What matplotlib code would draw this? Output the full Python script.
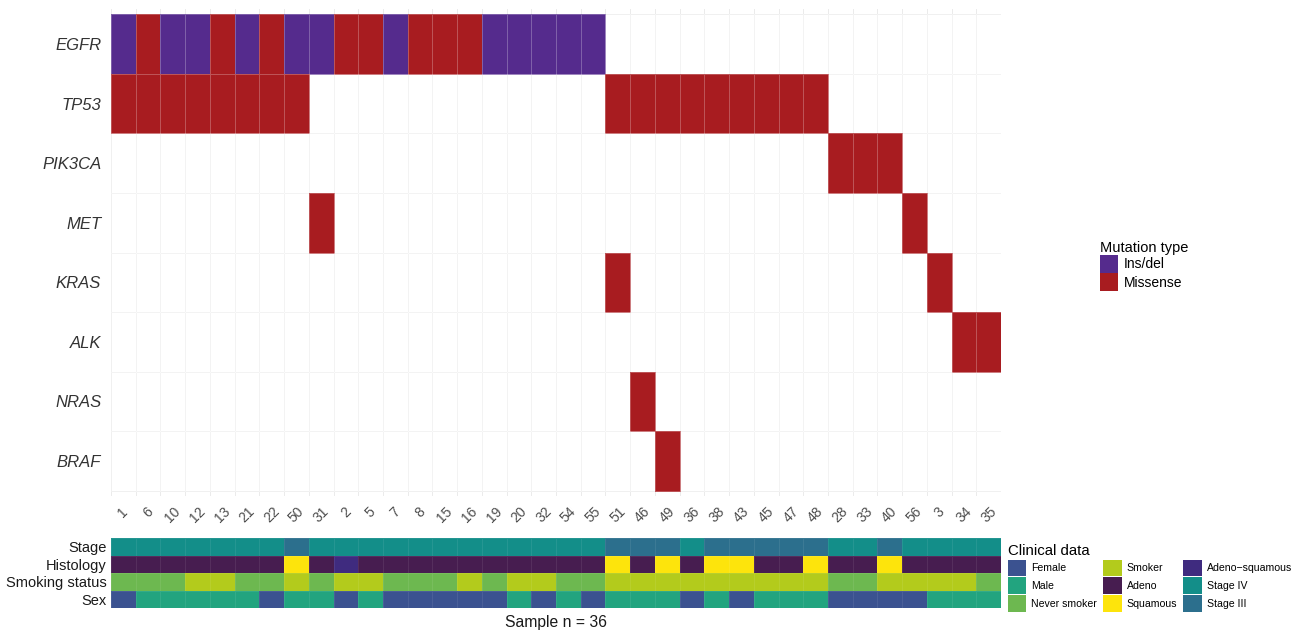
# oncoprint: mutations per gene + clinical annotation strip
import numpy as np
import matplotlib.pyplot as plt
from matplotlib.colors import ListedColormap
from matplotlib.patches import Patch

plt.rcParams['font.family'] = ['Liberation Sans', 'DejaVu Sans']

# ---- data ----
samples = ['1', '6', '10', '12', '13', '21', '22', '50', '31', '2', '5', '7',
           '8', '15', '16', '19', '20', '32', '54', '55', '51', '46', '49', '36',
           '38', '43', '45', '47', '48', '28', '33', '40', '56', '3', '34', '35']
genes = ['EGFR', 'TP53', 'PIK3CA', 'MET', 'KRAS', 'ALK', 'NRAS', 'BRAF']

# samples carrying each mutation type, per gene
indel = {
    'EGFR': ['1', '10', '12', '21', '50', '31', '7', '19', '20', '32', '54', '55'],
}
missense = {
    'EGFR': ['6', '13', '22', '2', '5', '8', '15', '16'],
    'TP53': ['1', '6', '10', '12', '13', '21', '22', '50',
             '51', '46', '49', '36', '38', '43', '45', '47', '48'],
    'PIK3CA': ['28', '33', '40'],
    'MET': ['31', '56'],
    'KRAS': ['51', '3'],
    'ALK': ['34', '35'],
    'NRAS': ['46'],
    'BRAF': ['49'],
}

# clinical data, one entry per sample (same order as samples)
stage = ['Stage IV', 'Stage IV', 'Stage IV', 'Stage IV', 'Stage IV', 'Stage IV',
         'Stage IV', 'Stage III', 'Stage IV', 'Stage IV', 'Stage IV', 'Stage IV',
         'Stage IV', 'Stage IV', 'Stage IV', 'Stage IV', 'Stage IV', 'Stage IV',
         'Stage IV', 'Stage IV', 'Stage III', 'Stage III', 'Stage III', 'Stage IV',
         'Stage III', 'Stage III', 'Stage III', 'Stage III', 'Stage III', 'Stage IV',
         'Stage IV', 'Stage III', 'Stage IV', 'Stage IV', 'Stage IV', 'Stage IV']
histology = ['Adeno', 'Adeno', 'Adeno', 'Adeno', 'Adeno', 'Adeno',
             'Adeno', 'Squamous', 'Adeno', 'Adeno\u2212squamous', 'Adeno', 'Adeno',
             'Adeno', 'Adeno', 'Adeno', 'Adeno', 'Adeno', 'Adeno',
             'Adeno', 'Adeno', 'Squamous', 'Adeno', 'Squamous', 'Adeno',
             'Squamous', 'Squamous', 'Adeno', 'Adeno', 'Squamous', 'Adeno',
             'Adeno', 'Squamous', 'Adeno', 'Adeno', 'Adeno', 'Adeno']
smoking = ['Never smoker', 'Never smoker', 'Never smoker', 'Smoker', 'Smoker', 'Never smoker',
           'Never smoker', 'Smoker', 'Never smoker', 'Smoker', 'Smoker', 'Never smoker',
           'Never smoker', 'Never smoker', 'Smoker', 'Never smoker', 'Smoker', 'Smoker',
           'Never smoker', 'Never smoker', 'Smoker', 'Smoker', 'Smoker', 'Smoker',
           'Smoker', 'Smoker', 'Smoker', 'Smoker', 'Smoker', 'Never smoker',
           'Never smoker', 'Smoker', 'Smoker', 'Smoker', 'Smoker', 'Never smoker']
sex = ['Female', 'Male', 'Male', 'Male', 'Male', 'Male',
       'Female', 'Male', 'Male', 'Female', 'Male', 'Female',
       'Female', 'Female', 'Female', 'Female', 'Male', 'Female',
       'Male', 'Female', 'Male', 'Male', 'Male', 'Female',
       'Male', 'Female', 'Male', 'Male', 'Male', 'Female',
       'Female', 'Female', 'Female', 'Male', 'Male', 'Male']
clin_rows = ['Stage', 'Histology', 'Smoking status', 'Sex']

mut_types = ['Ins/del', 'Missense']
mut_colors = ['#552B8D', '#A81C20']
clin_cats = ['Female', 'Male', 'Never smoker', 'Smoker', 'Adeno', 'Squamous',
             'Adeno\u2212squamous', 'Stage IV', 'Stage III']
clin_colors = ['#3B5290', '#22A47F', '#6DB850', '#B3CB1C', '#471D50', '#FDE40C',
               '#3F2B7F', '#138E89', '#2C6F8D']

# ---- matrices ----
mut = np.full((len(genes), len(samples)), np.nan)
for g, lst in indel.items():
    for s in lst:
        mut[genes.index(g), samples.index(s)] = 0
for g, lst in missense.items():
    for s in lst:
        mut[genes.index(g), samples.index(s)] = 1

clin = np.array([[clin_cats.index(v) for v in row]
                 for row in [stage, histology, smoking, sex]])

# ---- figure ----
W, H = 1296, 632
fig = plt.figure(figsize=(W / 100, H / 100), dpi=100)

def box(x0, y0, x1, y1):
    return [x0 / W, 1 - y1 / H, (x1 - x0) / W, (y1 - y0) / H]

ax = fig.add_axes(box(111, 9, 1001, 496))
ax.pcolormesh(np.ma.masked_invalid(mut), cmap=ListedColormap(mut_colors),
              vmin=-0.5, vmax=1.5, edgecolors=(1, 1, 1, 0.25), linewidth=0.6,
              zorder=2)
ax.set_xlim(0, len(samples))
ax.set_ylim(len(genes) + 0.09, -0.09)
ax.set_xticks(np.arange(len(samples)) + 0.5)
ax.set_xticklabels(samples, rotation=45, ha='center', va='top',
                   fontsize=10, color='#4D4D4D')
ax.set_yticks(np.arange(len(genes)) + 0.5)
ax.set_yticklabels(genes, fontsize=12, style='italic', color='#333333')
ax.set_xticks(np.arange(len(samples) + 1), minor=True)
ax.set_yticks(np.arange(len(genes) + 1), minor=True)
ax.tick_params(which='both', length=0)
ax.tick_params(axis='x', pad=6)
ax.tick_params(axis='y', pad=7)
ax.grid(which='minor', color='#EBEBEB', linewidth=0.7)
ax.grid(which='major', visible=False)
ax.set_axisbelow(True)
for sp in ax.spines.values():
    sp.set_visible(False)

# clinical strip
ax2 = fig.add_axes(box(111, 538, 1001, 608))
ax2.pcolormesh(clin, cmap=ListedColormap(clin_colors), vmin=-0.5,
               vmax=len(clin_cats) - 0.5, edgecolors=(1, 1, 1, 0.08), linewidth=0.5)
ax2.set_xlim(0, len(samples))
ax2.set_ylim(len(clin_rows), 0)
ax2.set_xticks([])
ax2.set_yticks(np.arange(len(clin_rows)) + 0.5)
ax2.set_yticklabels(clin_rows, fontsize=10.5, color='#1A1A1A')
ax2.tick_params(length=0, pad=3)
for sp in ax2.spines.values():
    sp.set_visible(False)

fig.text(556 / W, 1 - 622 / H, 'Sample n = 36', ha='center', va='center',
         fontsize=11.3, color='#1A1A1A')

# legends
h1 = [Patch(facecolor=c, label=l) for c, l in zip(mut_colors, mut_types)]
leg1 = fig.legend(handles=h1, title='Mutation type', loc='upper left',
                  bbox_to_anchor=(1094 / W, 1 - 235 / H), frameon=False,
                  fontsize=10, title_fontsize=10.5, alignment='left',
                  handlelength=1.35, handleheight=1.65, labelspacing=0.0,
                  handletextpad=0.4, borderaxespad=0)

h2 = [Patch(facecolor=c, label=l) for c, l in zip(clin_colors, clin_cats)]
leg2 = fig.legend(handles=h2, title='Clinical data', loc='upper left', ncol=3,
                  bbox_to_anchor=(1008 / W, 1 - 544 / H), frameon=False,
                  fontsize=7.6, title_fontsize=10.8, alignment='left',
                  handlelength=1.75, handleheight=2.0, labelspacing=0.15,
                  handletextpad=0.45, columnspacing=0.6, borderaxespad=0,
                  borderpad=0)

fig.savefig('out.png', dpi=100)
